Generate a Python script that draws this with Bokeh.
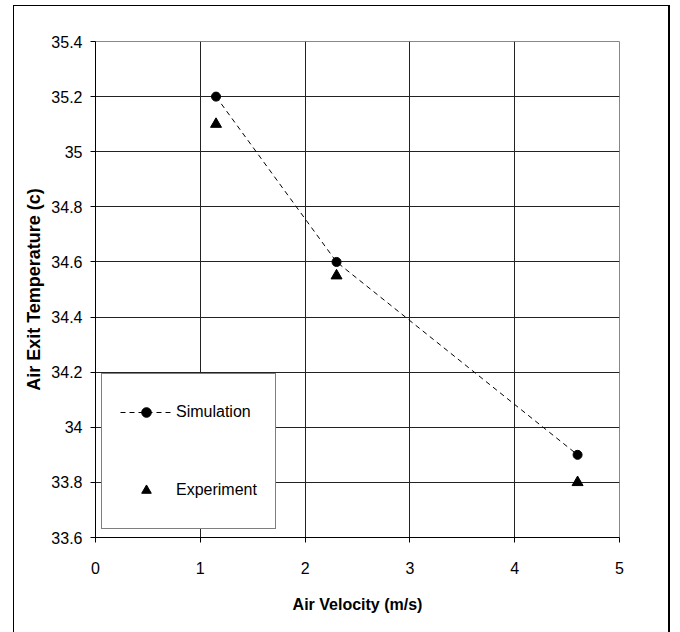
from bokeh.plotting import figure
from bokeh.models import (ColumnDataSource, FixedTicker, Legend, LegendItem, Range1d)
from bokeh.embed import file_html
from bokeh.resources import INLINE

# ---- data ----
velocity = [1.15, 2.3, 4.6]
sim_temp = [35.2, 34.6, 33.9]
exp_temp = [35.1, 34.55, 33.8]
x_ticks = [0, 1, 2, 3, 4, 5]
y_ticks = [33.6, 33.8, 34.0, 34.2, 34.4, 34.6, 34.8, 35.0, 35.2, 35.4]
y_tick_labels = ["33.6", "33.8", "34", "34.2", "34.4", "34.6", "34.8", "35", "35.2", "35.4"]

FONT = "Liberation Sans"

p = figure(width=657, height=630, output_backend="svg", toolbar_location=None,
           x_range=Range1d(0, 5), y_range=Range1d(33.6, 35.4),
           min_border_left=81, min_border_right=52, min_border_top=35,
           min_border_bottom=99, margin=(5, 0, 0, 13),
           styles={"border-left": "1px solid black", "border-top": "1px solid black",
                   "border-right": "2px solid black"})

sim_src = ColumnDataSource(dict(x=velocity, y=sim_temp))
exp_src = ColumnDataSource(dict(x=velocity, y=exp_temp))

sim_line = p.line("x", "y", source=sim_src, line_color="black", line_width=1,
                  line_dash="5 4")
sim_pts = p.scatter("x", "y", source=sim_src, marker="circle", size=9,
                    fill_color="black", line_color="black")
exp_pts = p.scatter("x", "y", source=exp_src, marker="triangle", size=11,
                    fill_color="black", line_color="black")

# axes
p.xaxis.ticker = FixedTicker(ticks=x_ticks)
p.yaxis.ticker = FixedTicker(ticks=y_ticks)
p.yaxis.major_label_overrides = {t: l for t, l in zip(y_ticks, y_tick_labels)}
for ax in (p.xaxis[0], p.yaxis[0]):
    ax.axis_line_color = "black"
    ax.axis_line_width = 1
    ax.major_tick_line_color = "black"
    ax.major_tick_out = 5
    ax.major_tick_in = 0
    ax.minor_tick_line_color = None
    ax.major_label_text_font = FONT
    ax.major_label_text_font_size = "16px"
    ax.major_label_text_color = "black"
    ax.axis_label_text_font = FONT
    ax.axis_label_text_font_style = "bold"
    ax.axis_label_text_color = "black"
p.yaxis.major_label_standoff = 8
p.xaxis.major_label_standoff = 19
p.xaxis.axis_label = "Air Velocity (m/s)"
p.xaxis.axis_label_text_font_size = "16px"
p.xaxis.axis_label_standoff = 19
p.yaxis.axis_label = "Air Exit Temperature (c)"
p.yaxis.axis_label_text_font_size = "18px"
p.yaxis.axis_label_standoff = 4

# grid
p.xgrid.grid_line_color = "#222222"
p.ygrid.grid_line_color = "#222222"
p.outline_line_color = "#888888"
p.outline_line_width = 1

# legend
legend = Legend(items=[LegendItem(label="Simulation", renderers=[sim_line, sim_pts]),
                       LegendItem(label="Experiment", renderers=[exp_pts])],
                location=(6, 8), margin=0, padding=18, spacing=38,
                glyph_width=52, glyph_height=24, label_height=40,
                label_standoff=4, label_text_font=FONT,
                label_text_font_size="16px", label_text_color="black",
                border_line_color="black", border_line_width=1,
                background_fill_color="white", background_fill_alpha=1)
p.add_layout(legend, "center")

open("out.html", "w").write(file_html(p, INLINE))
